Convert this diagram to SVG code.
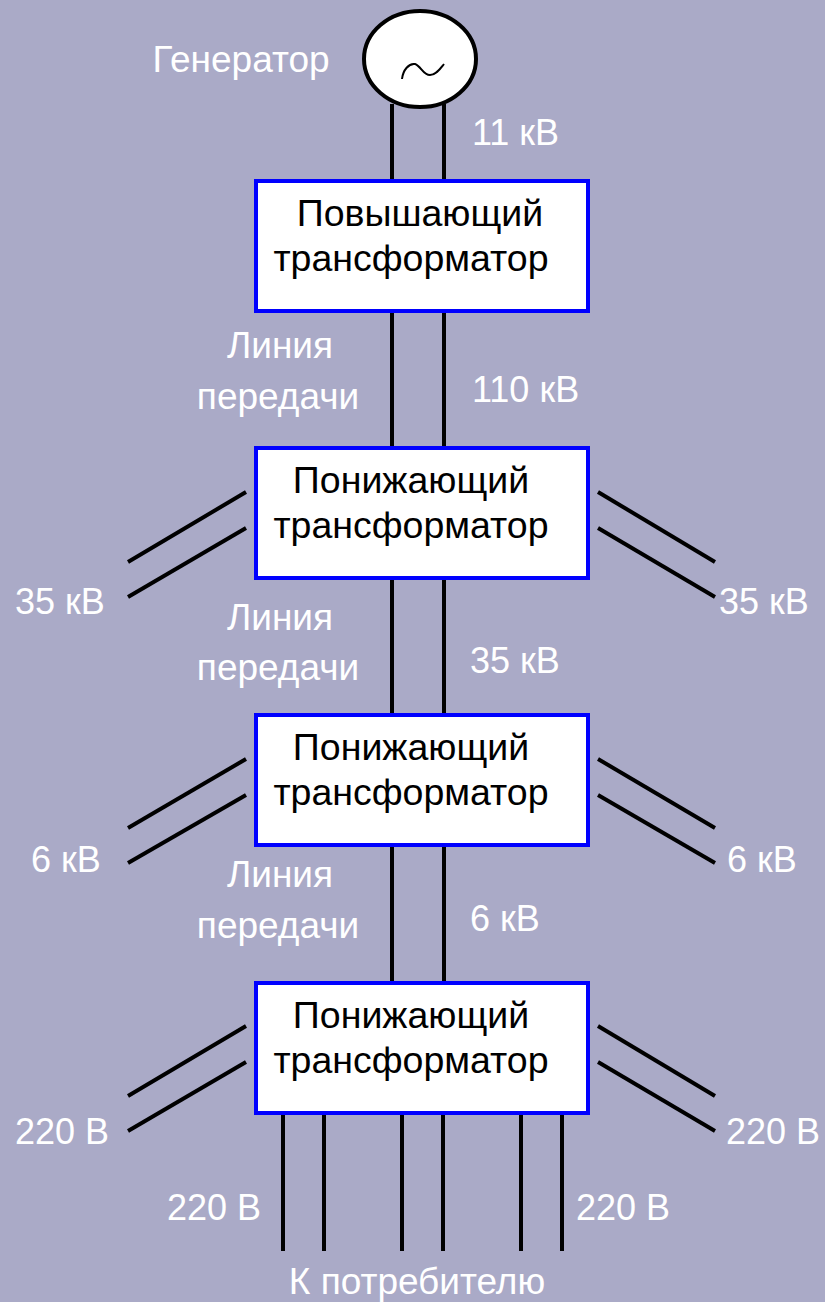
<svg xmlns="http://www.w3.org/2000/svg" width="825" height="1302" viewBox="0 0 825 1302">
<style>
.w{fill:#ffffff;font-family:"Liberation Sans",Arial,sans-serif;font-size:36px}
.c{font-size:37px}
.b{fill:#000000;font-family:"Liberation Sans",Arial,sans-serif;font-size:37.5px;text-anchor:middle}
.box{fill:#ffffff;stroke:#0000ff;stroke-width:4}
.ln{stroke:#000000;stroke-width:4;fill:none}
.m{text-anchor:middle}
</style>
<rect width="825" height="1302" fill="#aaaac7"/>
<g id="connectors">
<line class="ln" x1="392" y1="104" x2="392" y2="181"/>
<line class="ln" x1="444" y1="104" x2="444" y2="181"/>
<line class="ln" x1="392" y1="311" x2="392" y2="448"/>
<line class="ln" x1="444" y1="311" x2="444" y2="448"/>
<line class="ln" x1="392" y1="578" x2="392" y2="715"/>
<line class="ln" x1="444" y1="578" x2="444" y2="715"/>
<line class="ln" x1="392" y1="845" x2="392" y2="983"/>
<line class="ln" x1="444" y1="845" x2="444" y2="983"/>
<line class="ln" x1="246" y1="492" x2="128" y2="562"/>
<line class="ln" x1="246" y1="528" x2="128" y2="597"/>
<line class="ln" x1="598" y1="492" x2="715" y2="562"/>
<line class="ln" x1="598" y1="528" x2="715" y2="597"/>
<line class="ln" x1="246" y1="759" x2="128" y2="828"/>
<line class="ln" x1="246" y1="795" x2="128" y2="863"/>
<line class="ln" x1="598" y1="759" x2="715" y2="828"/>
<line class="ln" x1="598" y1="795" x2="715" y2="863"/>
<line class="ln" x1="246" y1="1026" x2="128" y2="1096"/>
<line class="ln" x1="246" y1="1062" x2="128" y2="1131"/>
<line class="ln" x1="598" y1="1026" x2="715" y2="1096"/>
<line class="ln" x1="598" y1="1062" x2="715" y2="1131"/>
<line class="ln" x1="283" y1="1113" x2="283" y2="1251"/>
<line class="ln" x1="324" y1="1113" x2="324" y2="1251"/>
<line class="ln" x1="402" y1="1113" x2="402" y2="1251"/>
<line class="ln" x1="443" y1="1113" x2="443" y2="1251"/>
<line class="ln" x1="521" y1="1113" x2="521" y2="1251"/>
<line class="ln" x1="562" y1="1113" x2="562" y2="1251"/>
</g>
<g id="generator">
<ellipse cx="420" cy="59" rx="56" ry="48" fill="#ffffff" stroke="#000000" stroke-width="4"/>
<path d="M402,79 C403,70 409,63 415,64 C421,66 423,75 430,75 C436,75 440,69 444,64" fill="none" stroke="#000000" stroke-width="2"/>
</g>
<g id="step-up">
<rect class="box" x="256" y="181" width="332" height="130"/>
<text class="b" x="420" y="226">Повышающий</text>
<text class="b" x="411" y="271">трансформатор</text>
</g>
<g id="step-down-1">
<rect class="box" x="256" y="448" width="332" height="130"/>
<text class="b" x="411" y="493">Понижающий</text>
<text class="b" x="411" y="538">трансформатор</text>
</g>
<g id="step-down-2">
<rect class="box" x="256" y="715" width="332" height="130"/>
<text class="b" x="411" y="760">Понижающий</text>
<text class="b" x="411" y="805">трансформатор</text>
</g>
<g id="step-down-3">
<rect class="box" x="256" y="983" width="332" height="130"/>
<text class="b" x="411" y="1028">Понижающий</text>
<text class="b" x="411" y="1073">трансформатор</text>
</g>
<g id="labels">
<text class="w c m" x="241" y="72">Генератор</text>
<text class="w" x="472" y="145">11 кВ</text>
<text class="w c m" x="280" y="358">Линия</text>
<text class="w c m" x="278" y="409">передачи</text>
<text class="w" x="472" y="402">110 кВ</text>
<text class="w" x="15" y="614">35 кВ</text>
<text class="w" x="719" y="614">35 кВ</text>
<text class="w c m" x="280" y="630">Линия</text>
<text class="w c m" x="278" y="680">передачи</text>
<text class="w" x="470" y="673">35 кВ</text>
<text class="w" x="31" y="872">6 кВ</text>
<text class="w" x="727" y="872">6 кВ</text>
<text class="w c m" x="280" y="887">Линия</text>
<text class="w c m" x="278" y="938">передачи</text>
<text class="w" x="470" y="931">6 кВ</text>
<text class="w" x="15" y="1144">220 В</text>
<text class="w" x="726" y="1144">220 В</text>
<text class="w" x="167" y="1220">220 В</text>
<text class="w" x="576" y="1220">220 В</text>
<text class="w c m" x="417" y="1294">К потребителю</text>
</g>
</svg>
